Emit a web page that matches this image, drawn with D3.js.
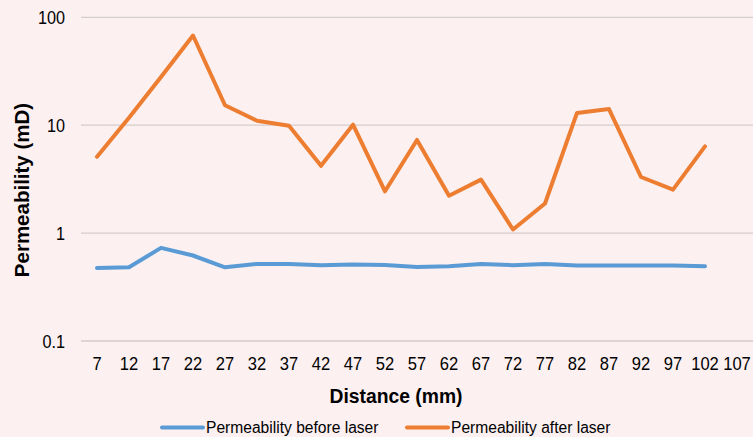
<!DOCTYPE html>
<html>
<head>
<meta charset="utf-8">
<script src="https://cdn.jsdelivr.net/npm/d3@7/dist/d3.min.js"></script>
<style>
  html, body { margin: 0; padding: 0; background: #fcf0f0; }
  svg { display: block; }
  text { font-family: "Liberation Sans", Arial, sans-serif; fill: #000; }
</style>
</head>
<body>
<svg id="chart" width="753" height="437"></svg>
<script>
const categories = [7, 12, 17, 22, 27, 32, 37, 42, 47, 52, 57, 62, 67, 72, 77, 82, 87, 92, 97, 102, 107];
const beforeLaser = [0.476, 0.482, 0.73, 0.62, 0.482, 0.518, 0.518, 0.504, 0.511, 0.507, 0.486, 0.493, 0.518, 0.504, 0.518, 0.50, 0.50, 0.50, 0.50, 0.493];
const afterLaser = [5.1, 11.7, 28, 67.8, 15.3, 11.0, 9.9, 4.2, 10.1, 2.44, 7.3, 2.22, 3.13, 1.08, 1.88, 13.0, 14.1, 3.31, 2.53, 6.37];
const yTicks = [0.1, 1, 10, 100];
const yTickLabels = ["0.1", "1", "10", "100"];
const seriesNames = ["Permeability before laser", "Permeability after laser"];
const colors = ["#5b9bd5", "#ed7d31"];

const svg = d3.select("#chart");
svg.append("rect").attr("width", 753).attr("height", 437).attr("fill", "#fcf0f0");

const x = d3.scaleBand().domain(categories).range([81, 753]);
const y = d3.scaleLog().domain([0.1, 100]).range([341, 17.3]);

// gridlines
svg.append("g").selectAll("line").data(yTicks).join("line")
  .attr("x1", 81).attr("x2", 753)
  .attr("y1", d => y(d)).attr("y2", d => y(d))
  .attr("stroke", "#d6cdcd").attr("stroke-width", 1.3);

// y axis
const yAxis = d3.axisLeft(y).tickValues(yTicks).tickFormat((d, i) => yTickLabels[i]).tickSize(0).tickPadding(0);
const gy = svg.append("g").attr("transform", "translate(65,0)").call(yAxis);
gy.select(".domain").remove();
gy.selectAll("text").attr("font-size", 18).attr("font-family", "Liberation Sans, Arial, sans-serif")
  .attr("fill", "#000").attr("dy", "0.35em").attr("transform", "scale(0.9,1)");

// x axis
const xAxis = d3.axisBottom(x).tickSize(0).tickPadding(0);
const gx = svg.append("g").attr("transform", "translate(0,357)").call(xAxis);
gx.select(".domain").remove();
gx.selectAll("text").attr("font-size", 18).attr("font-family", "Liberation Sans, Arial, sans-serif")
  .attr("fill", "#000").attr("dy", "0.71em").attr("transform", "scale(0.92,1)");

// lines
const line = d3.line().x((d, i) => x(categories[i]) + x.bandwidth() / 2).y(d => y(d));
[beforeLaser, afterLaser].forEach((s, k) => {
  svg.append("path").datum(s).attr("d", line)
    .attr("fill", "none").attr("stroke", colors[k]).attr("stroke-width", 4)
    .attr("stroke-linejoin", "round").attr("stroke-linecap", "round");
});

// axis titles
svg.append("text").attr("transform", "translate(396,403) scale(0.92,1)").attr("text-anchor", "middle")
  .attr("font-size", 21).attr("font-weight", "bold").text("Distance (mm)");
svg.append("text").attr("transform", "translate(29,190) rotate(-90)").attr("text-anchor", "middle")
  .attr("font-size", 20.5).attr("font-weight", "bold").text("Permeability (mD)");

// legend
const legendX = [162, 407];
seriesNames.forEach((n, k) => {
  svg.append("line").attr("x1", legendX[k]).attr("x2", legendX[k] + 41)
    .attr("y1", 427.5).attr("y2", 427.5)
    .attr("stroke", colors[k]).attr("stroke-width", 4).attr("stroke-linecap", "round");
  svg.append("text").attr("x", legendX[k] + 44).attr("y", 433).attr("font-size", 15.6).text(n);
});
</script>
</body>
</html>
